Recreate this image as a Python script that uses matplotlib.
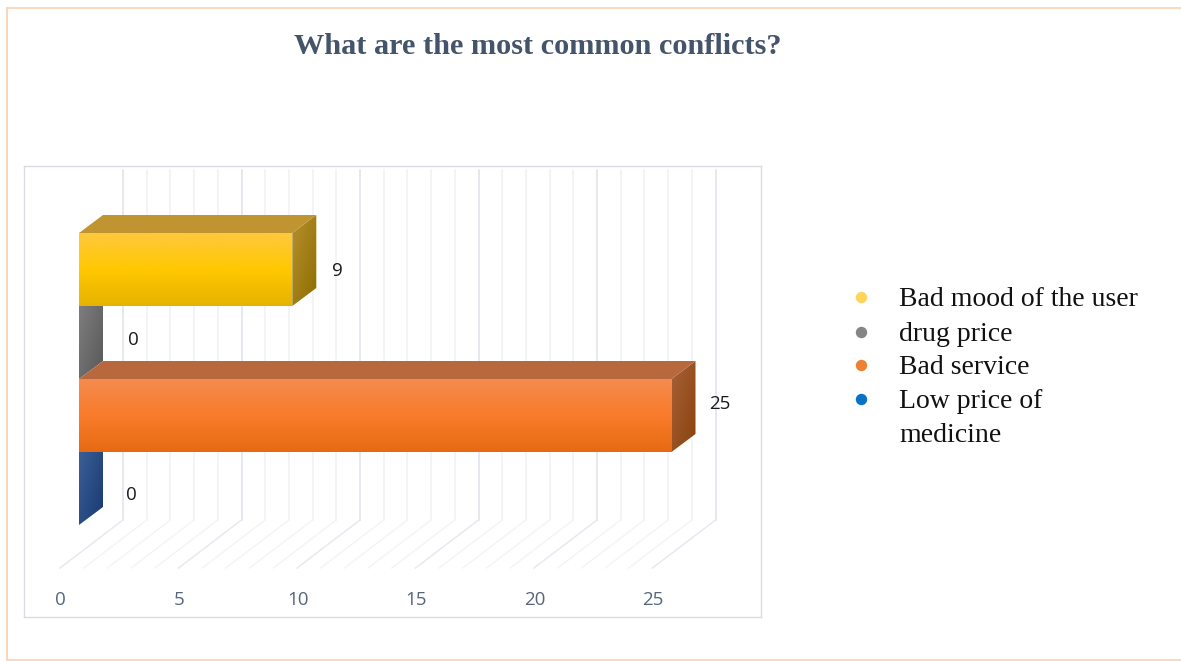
import matplotlib
matplotlib.use("Agg")
import matplotlib.pyplot as plt
import numpy as np
from matplotlib.colors import LinearSegmentedColormap
from matplotlib.lines import Line2D
from matplotlib.patches import Polygon

W, H = 1181, 661
TITLE = "What are the most common conflicts?"

# Series listed from the top of the chart downwards
series = ["Bad mood of the user", "drug price", "Bad service", "Low price of\nmedicine"]
values = [9, 0, 25, 0]
tick_values = [0, 5, 10, 15, 20, 25]
grid_values = list(range(0, 26))

marker_colors = ["#FFD45C", "#858585", "#F07F36", "#0A72C6"]
front_stops = [
    ["#FFC83E", "#FFC800", "#E6B300"],
    ["#8A8A8A", "#7A7A7A", "#666666"],
    ["#F58B50", "#F87C2A", "#E76A12"],
    ["#4F6FA5", "#2F5597", "#1F3F7A"],
]
top_colors = ["#C09531", "#6E6E6E", "#B7683C", "#2F4F85"]
side_stops = [
    ["#B78F2E", "#8C6E00"],
    ["#828282", "#585858"],
    ["#A86037", "#88430D"],
    ["#40639C", "#183970"],
]

# Pixel geometry of the pseudo-3D scene
BOX_L, BOX_R, BOX_T, BOX_B = 24, 761, 166, 617
ORIGIN_X, BASE_Y = 79, 525       # front plane: value 0, bottom of the lowest band
PX_PER_UNIT = 23.7
PX_PER_BAND = 73.0
DEPTH_X = 24 / PX_PER_UNIT       # bar depth, value units
DEPTH_Y = 18 / PX_PER_BAND       # bar depth, band units
WALL_X = 44 / PX_PER_UNIT        # back wall offset from the front plane
WALL_Y0 = (BASE_Y - 520) / PX_PER_BAND
WALL_TOP = (BASE_Y - 170) / PX_PER_BAND
FLOOR_X = -19 / PX_PER_UNIT      # front edge of the floor
FLOOR_Y = (BASE_Y - 568) / PX_PER_BAND

fig = plt.figure(figsize=(W / 100, H / 100), dpi=100, facecolor="white")
ax = fig.add_axes([BOX_L / W, 1 - BOX_B / H, (BOX_R - BOX_L) / W, (BOX_B - BOX_T) / H])
xlim = ((BOX_L - ORIGIN_X) / PX_PER_UNIT, (BOX_R - ORIGIN_X) / PX_PER_UNIT)
ylim = ((BASE_Y - BOX_B) / PX_PER_BAND, (BASE_Y - BOX_T) / PX_PER_BAND)

# Outer slide frame, open on the right-hand side
frame = dict(color="#FBD6BC", lw=1.4, transform=fig.transFigure, clip_on=False)
fig.add_artist(Line2D([7 / W, 7 / W], [1 - 660 / H, 1 - 8 / H], **frame))
fig.add_artist(Line2D([7 / W, 1], [1 - 8 / H, 1 - 8 / H], **frame))
fig.add_artist(Line2D([7 / W, 1], [1 - 660 / H, 1 - 660 / H], **frame))

for s in ax.spines.values():
    s.set_color("#D9DDE3")
    s.set_linewidth(1.0)
ax.set_yticks([])

# Back wall and floor grid
for g in grid_values:
    major = g % 5 == 0
    wall_c = "#E0E4EC" if major else "#F0F2F6"
    floor_c = "#E6E9F0" if major else "#F3F5F8"
    ax.plot([g + WALL_X, g + WALL_X], [WALL_Y0, WALL_TOP], color=wall_c, lw=1.2, zorder=1)
    ax.plot([g + FLOOR_X, g + WALL_X], [FLOOR_Y, WALL_Y0], color=floor_c, lw=1.1, zorder=1)


def gradient(poly, stops, diagonal=False, zorder=3):
    """Fill a clipped region with a vertical or diagonal colour ramp."""
    cmap = LinearSegmentedColormap.from_list("ramp", stops)
    t = np.linspace(0, 1, 200)[:, None]
    grid = t @ np.ones((1, 200))
    if diagonal:
        grid = (grid + np.linspace(0, 1, 200)[None, :]) / 2
    xs, ys = poly.get_xy()[:, 0], poly.get_xy()[:, 1]
    im = ax.imshow(grid, cmap=cmap, aspect="auto", zorder=zorder, interpolation="bilinear",
                   extent=(xs.min(), xs.max(), ys.min(), ys.max()), origin="upper")
    im.set_clip_path(poly)


n = len(values)
for i, v in enumerate(values):
    y0 = n - 1 - i
    y1 = y0 + 1
    # Empty series show only an end cap, which the longer bars overlap
    z = 6 if v > 0 else 3
    if v > 0:
        ax.barh(y0, v, height=1, left=0, align="edge", color="none", zorder=z + 0.2)
        front = Polygon([(0, y0), (v, y0), (v, y1), (0, y1)], closed=True, fc="none", ec="none")
        ax.add_patch(front)
        gradient(front, front_stops[i], zorder=z + 0.1)
        top = Polygon([(0, y1), (v, y1), (v + DEPTH_X, y1 + DEPTH_Y), (DEPTH_X, y1 + DEPTH_Y)],
                      closed=True, fc=top_colors[i], ec="none", zorder=z + 0.1)
        ax.add_patch(top)
    side = Polygon([(v, y0), (v + DEPTH_X, y0 + DEPTH_Y), (v + DEPTH_X, y1 + DEPTH_Y), (v, y1)],
                   closed=True, fc="none", ec="none")
    ax.add_patch(side)
    gradient(side, side_stops[i], diagonal=True, zorder=z)

# Data labels sit a little beyond each bar's end
label_gap_px = [45, 54, 48, 52]
label_y_px = [271, 340, 404, 495]
for v, gap, ly in zip(values, label_gap_px, label_y_px):
    ax.text(v + gap / PX_PER_UNIT, (BASE_Y - ly) / PX_PER_BAND, str(v), ha="center", va="center",
            family="Open Sans", fontsize=13.5, color="#1A1A1A", zorder=20)

# Axis numbers line up with the front edge of the floor
ax.set_xticks([t + FLOOR_X + 0.8 / PX_PER_UNIT for t in tick_values])
ax.set_xticklabels([str(t) for t in tick_values], family="Open Sans", fontsize=13.5, color="#56667F")
ax.tick_params(axis="x", length=0, pad=-19)
ax.set_xlim(xlim)
ax.set_ylim(ylim)

fig.text(538 / W, 1 - 46 / H, TITLE, ha="center", va="center", family="Liberation Serif",
         fontweight="bold", fontsize=21.8, color="#44546A")

# Hand-placed legend so the markers stay level with each label's first line
legend_y = [297, 332, 365, 399]
for name, c, ly in zip(series, marker_colors, legend_y):
    fig.add_artist(Line2D([861 / W], [1 - ly / H], marker="o", ms=7.2, mfc=c, mec=c, ls="none",
                          transform=fig.transFigure))
    fig.text(899 / W, 1 - (ly - 10) / H, name, ha="left", va="top", family="Liberation Serif",
             fontsize=20, color="#111111", linespacing=1.45)

fig.savefig("out.png", dpi=100, facecolor="white")
